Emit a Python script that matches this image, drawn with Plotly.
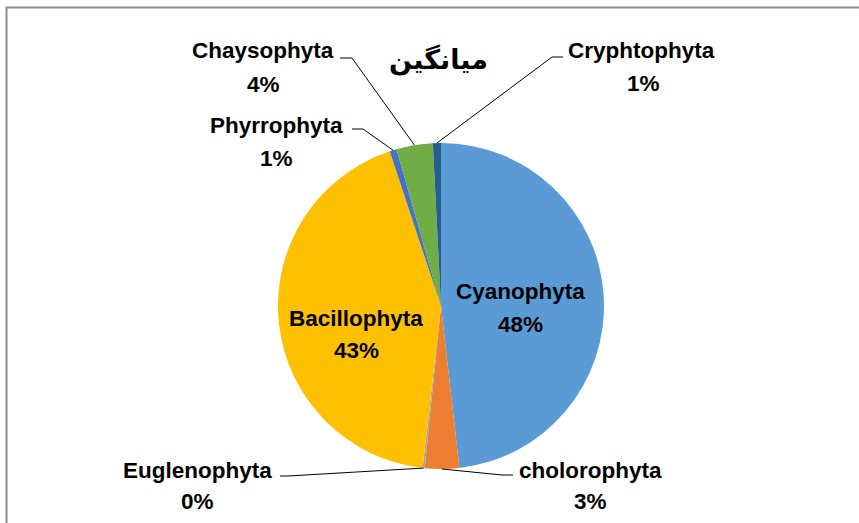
import math
import plotly.graph_objects as go

# ---- data ----
categories = ["Cyanophyta", "cholorophyta", "Euglenophyta", "Bacillophyta",
              "Phyrrophyta", "Chaysophyta", "Cryphtophyta"]
values = [48.2, 3.4, 0.2, 43.1, 0.7, 3.6, 0.8]
colors = ["#5B9BD5", "#ED7D31", "#A5A5A5", "#FFC000", "#4472C4", "#70AD47", "#255E91"]
title_text = "میانگین"

W, H = 859, 523
CX, CY, R = 441, 306, 163  # pie centre / radius in px


def px(x):
    return x / W


def py(y):
    return 1 - y / H


total = sum(values)
pcts = [v / total * 100 for v in values]

fig = go.Figure(go.Pie(
    labels=categories, values=values, sort=False, direction="clockwise",
    rotation=0, textinfo="none", hoverinfo="label+percent",
    marker=dict(colors=colors, line=dict(width=0)),
    domain=dict(x=[px(CX - R), px(CX + R)], y=[py(CY + R), py(CY - R)]),
    showlegend=False,
))

# label layout: (name centre x, name centre y, pct centre x, pct centre y, leader start points)
label_pos = {
    "Cyanophyta": (520, 291, 520, 324, None),
    "Bacillophyta": (356, 318, 356, 350, None),
    "Chaysophyta": (263, 50, 263, 84, [(340, 58), (352, 58)]),
    "Cryphtophyta": (641, 50, 643, 83, [(563, 57), (552, 57)]),
    "Phyrrophyta": (276, 126, 276, 158, [(352, 129), (363, 129)]),
    "Euglenophyta": (197, 470, 197, 501, [(280, 476), (288, 476)]),
    "cholorophyta": (590, 470, 590, 501, [(513, 475), (502, 475)]),
}

font = dict(family="Liberation Sans, Arial, sans-serif", size=22.5, color="#000000")
annotations = []
shapes = []
cum = 0.0
for name, p in zip(categories, pcts):
    mid = (cum + p / 2) / 100 * 2 * math.pi
    cum += p
    nx, ny, qx, qy, lead = label_pos[name]
    annotations.append(dict(x=px(nx), y=py(ny), xref="paper", yref="paper",
                            text="<b>%s</b>" % name, showarrow=False, font=font,
                            xanchor="center", yanchor="middle"))
    annotations.append(dict(x=px(qx), y=py(qy), xref="paper", yref="paper",
                            text="<b>%d%%</b>" % round(p), showarrow=False, font=font,
                            xanchor="center", yanchor="middle"))
    if lead:
        ex = CX + R * math.sin(mid)
        ey = CY - R * math.cos(mid)
        pts = lead + [(ex, ey)]
        path = "M " + " L ".join("%f,%f" % (px(a), py(b)) for a, b in pts)
        shapes.append(dict(type="path", path=path, xref="paper", yref="paper",
                           line=dict(color="#000000", width=1)))

annotations.append(dict(x=px(438), y=py(60), xref="paper", yref="paper",
                        text="<b>%s</b>" % title_text, showarrow=False,
                        font=dict(family="DejaVu Sans, Noto Sans, sans-serif", size=27, color="#000000"),
                        xanchor="center", yanchor="middle"))

# chart frame (top and left edges)
shapes.append(dict(type="path", path="M %f,0 L %f,%f L 1.01,%f" % (px(6.5), px(6.5), py(7.5), py(7.5)),
                   xref="paper", yref="paper", line=dict(color="#8C8C8C", width=2)))

fig.update_layout(
    width=W, height=H, margin=dict(l=0, r=0, t=0, b=0),
    paper_bgcolor="#FFFFFF", plot_bgcolor="#FFFFFF",
    annotations=annotations, shapes=shapes,
)

fig.write_html("out.html", config={"displayModeBar": False},
               post_script="document.body.style.margin='0px';")
